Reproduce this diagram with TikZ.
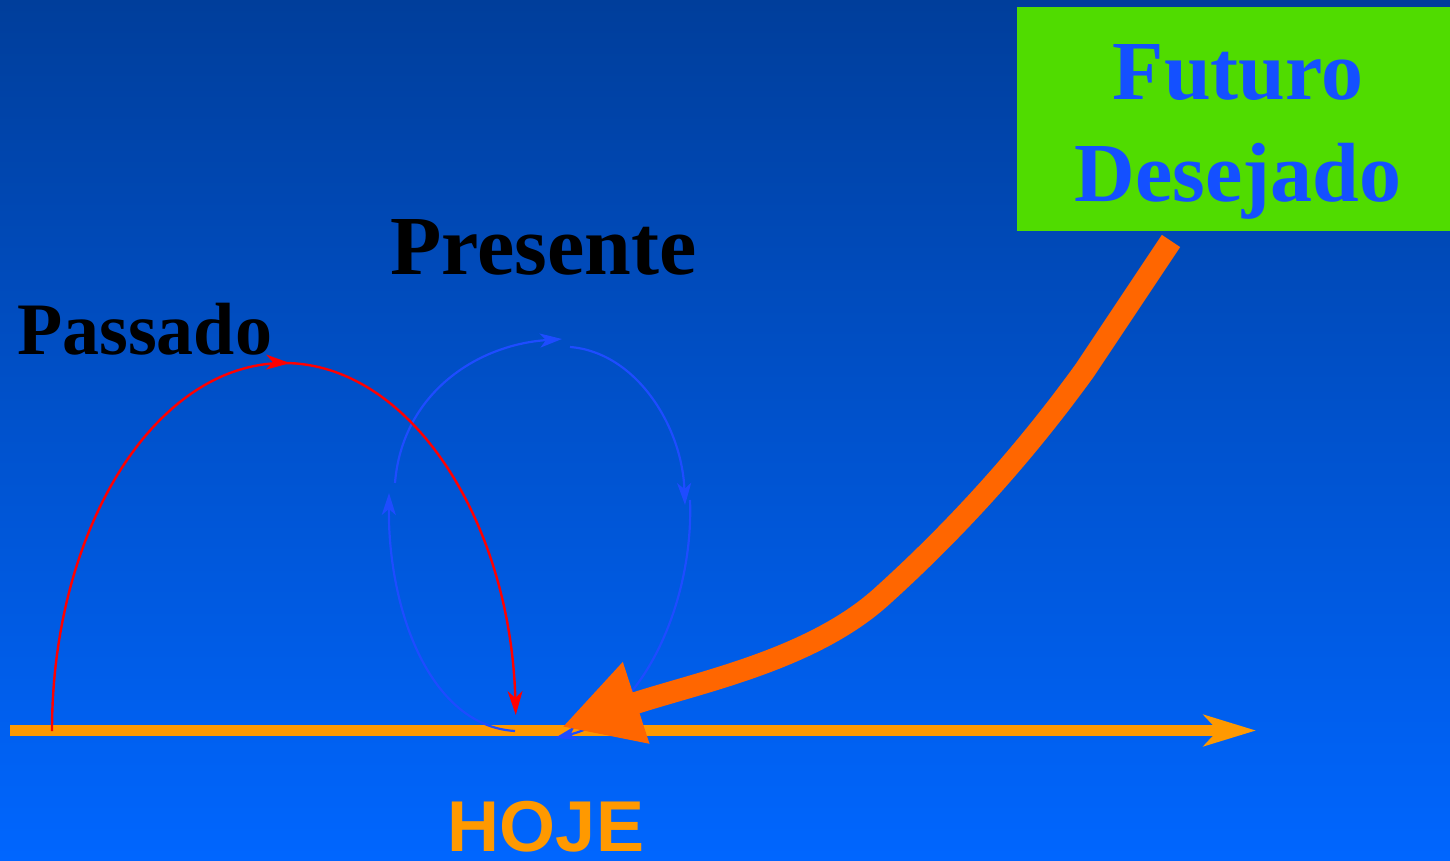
\documentclass[tikz,border=0pt]{standalone}
\usepackage{fontspec}
\setmainfont{Liberation Serif}
\newfontfamily\hojefont{Liberation Sans}
\usetikzlibrary{arrows.meta,decorations.markings}

\definecolor{bgtop}{RGB}{0,62,155}
\definecolor{bgbottom}{RGB}{0,102,255}
\definecolor{boxgreen}{RGB}{80,220,0}
\definecolor{textblue}{RGB}{20,80,255}
\definecolor{loopblue}{RGB}{30,76,255}
\definecolor{lineorange}{RGB}{255,153,0}
\definecolor{arroworange}{RGB}{255,102,0}

\tikzset{
  bigword/.style={inner sep=0, font=\fontsize{84}{102}\selectfont\bfseries},
  timeline/.style={draw=lineorange, line width=11pt,
    -{Stealth[length=52pt, width=31pt, inset=14pt]}},
  pastarc/.style={draw=red, line width=2.4pt, -{Stealth[length=24pt, width=15pt, inset=7pt]}},
  loopseg/.style={draw=loopblue, line width=2.2pt, -{Stealth[length=22pt, width=14pt, inset=6pt]}},
  bigarrow/.style={draw=arroworange, line width=22pt,
    -{Triangle[length=78pt, width=80pt]}}
}

\begin{document}
\begin{tikzpicture}[x=1pt, y=-1pt]
    \useasboundingbox (0,0) rectangle (1450,861);
    \shade[top color=bgtop, bottom color=bgbottom] (0,0) rectangle (1450,861);

    \node [fill=boxgreen, inner sep=0, minimum width=433pt, minimum height=224pt,
      anchor=north west] (futuro) at (1017,7) {};
    \node [bigword, text=textblue, align=center, anchor=north] (futurolbl)
      at (1238,44.4) {Futuro\\Desejado};

    \coordinate (t0) at (10,730.5);
    \coordinate (t1) at (1256,730.5);
    \coordinate (r0) at (52,731);
    \coordinate (b0) at (515,731);
    \coordinate (b1) at (389,493);
    \coordinate (b2) at (395,483);
    \coordinate (b3) at (562,339);
    \coordinate (b4) at (570,347);
    \coordinate (b5) at (685,505);
    \coordinate (b6) at (690,500);
    \coordinate (b7) at (555,738);
    \coordinate (f0) at (1171,241);
    \coordinate (f1) at (562,727);

    \draw [timeline] (t0) -- (t1);

    \draw [loopseg] (b0) .. controls (430,726) and (388,610) .. (b1);
    \draw [loopseg] (b2) .. controls (402,395) and (475,345) .. (b3);
    \draw [loopseg] (b4) .. controls (635,352) and (682,425) .. (b5);
    \draw [loopseg] (b6) .. controls (694,605) and (640,718) .. (b7);

    \draw [pastarc,
      postaction={decorate, decoration={markings,
        mark=at position 0.515 with {\arrow{Stealth[length=24pt, width=15pt, inset=7pt]}}}}]
      (r0) arc [start angle=180, end angle=357.5, x radius=232, y radius=368];

    \draw [bigarrow] (f0)
      -- (1085,370)
      .. controls (1020,460) and (950,535) .. (880,598)
      .. controls (810,660) and (700,682) .. (f1);

    \node [bigword, font=\fontsize{74}{80}\selectfont\bfseries, anchor=base west]
      (passado) at (17,354) {Passado};
    \node [bigword, anchor=base west] (presente) at (390,274) {Presente};
    \node [inner sep=0, anchor=base, text=lineorange,
      font=\fontsize{72}{80}\selectfont\hojefont\bfseries] (hoje) at (546,851) {HOJE};
  \end{tikzpicture}
\end{document}
